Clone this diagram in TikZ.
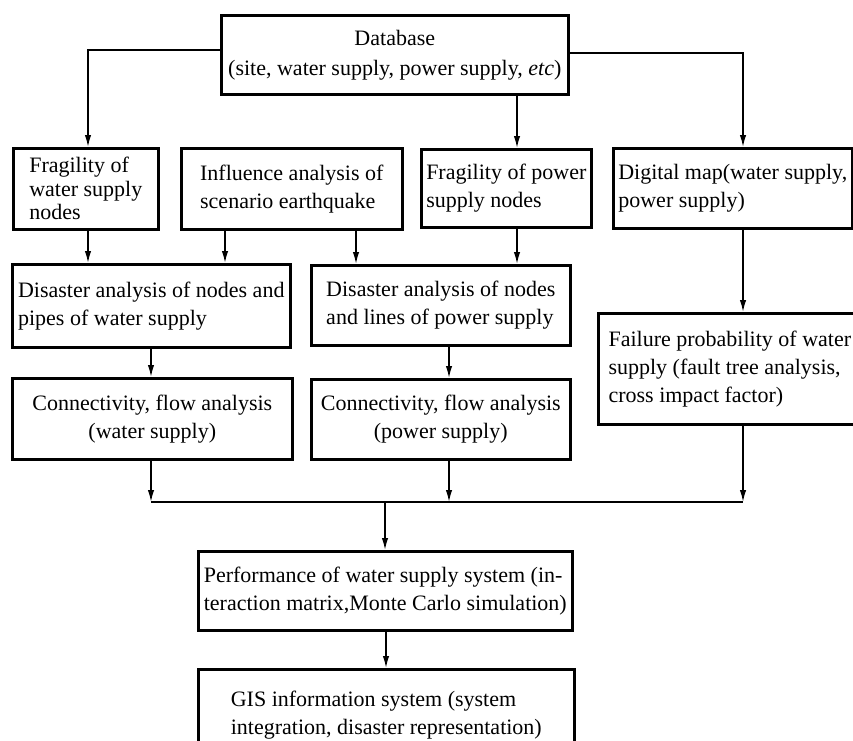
\documentclass[tikz,border=0pt]{standalone}
\usepackage{fontspec}
\setmainfont{Liberation Serif}
\usetikzlibrary{arrows.meta}
\begin{document}
\begin{tikzpicture}[x=1pt,y=-1pt,
  box/.style={draw, line width=2.6pt, anchor=north west, inner xsep=2pt, inner ysep=0pt,
    align=left, font=\fontsize{22}{28}\selectfont},
  cbox/.style={box, align=center},
  conn/.style={line width=1.6pt, -{Latex[length=12pt,width=6.5pt]}},
  link/.style={line width=1.6pt}]
\useasboundingbox (0,0) rectangle (853,740);
\clip (0,0) rectangle (853,740);

% top source
\node[cbox, minimum width=347, minimum height=79, font=\fontsize{22}{30}\selectfont] (db) at (220,14)
  {Database\\(site, water supply, power supply, \textit{etc})};

% second row
\node[box, minimum width=145, minimum height=81, font=\fontsize{22}{23.5}\selectfont] (fw) at (12,147)
  {Fragility of\\water supply\\nodes};
\node[box, minimum width=221, minimum height=81] (inf) at (180,147)
  {Influence analysis of\\scenario earthquake};
\node[box, minimum width=170, minimum height=78] (fp) at (420,148)
  {Fragility of power\\supply nodes};
\node[box, minimum width=239, minimum height=80] (dm) at (612,147)
  {Digital map(water supply,\\power supply)};

% third row
\node[box, minimum width=278, minimum height=83] (ew) at (11,263)
  {Disaster analysis of nodes and\\pipes of water supply};
\node[box, minimum width=259, minimum height=80] (ep) at (310,264)
  {Disaster analysis of nodes\\and lines of power supply};
\node[box, minimum width=263, minimum height=111] (fail) at (597,312)
  {Failure probability of water\\supply (fault tree analysis,\\cross impact factor)};

% fourth row
\node[cbox, minimum width=280, minimum height=81] (cw) at (11,377)
  {Connectivity, flow analysis\\(water supply)};
\node[cbox, minimum width=259, minimum height=80] (cp) at (310,378)
  {Connectivity, flow analysis\\(power supply)};

% bottom
\node[box, minimum width=374, minimum height=79] (perf) at (197,550)
  {Performance of water supply system (in-\\teraction matrix,Monte Carlo simulation)};
\node[box, minimum width=376, minimum height=92] (gis) at (197,668)
  {GIS information system (system\\integration, disaster representation)};

% connectors from the database
\draw[conn] (db.west |- 0,50) -| (88,0 |- fw.north);
\draw[conn] (db.east |- 0,53) -| (743,0 |- dm.north);
\draw[conn] (517,0 |- db.south) -- (517,0 |- fp.north);

% second to third row
\draw[conn] (88,0 |- fw.south) -- (88,0 |- ew.north);
\draw[conn] (225,0 |- inf.south) -- (225,0 |- ew.north);
\draw[conn] (356,0 |- inf.south) -- (356,0 |- ep.north);
\draw[conn] (517,0 |- fp.south) -- (517,0 |- ep.north);
\draw[conn] (743,0 |- dm.south) -- (743,0 |- fail.north);

% third to fourth row
\draw[conn] (151,0 |- ew.south) -- (151,0 |- cw.north);
\draw[conn] (449,0 |- ep.south) -- (449,0 |- cp.north);

% merge bar
\coordinate (mL) at (151,502);
\coordinate (mC) at (449,502);
\coordinate (mR) at (743,502);
\coordinate (mJ) at (385,502);
\draw[conn] (151,0 |- cw.south) -- (mL);
\draw[conn] (449,0 |- cp.south) -- (mC);
\draw[conn] (743,0 |- fail.south) -- (mR);
\draw[link] (mL) -- (mR);
\draw[conn] (mJ) -- (385,0 |- perf.north);
\draw[conn] (386,0 |- perf.south) -- (386,0 |- gis.north);
\end{tikzpicture}
\end{document}
